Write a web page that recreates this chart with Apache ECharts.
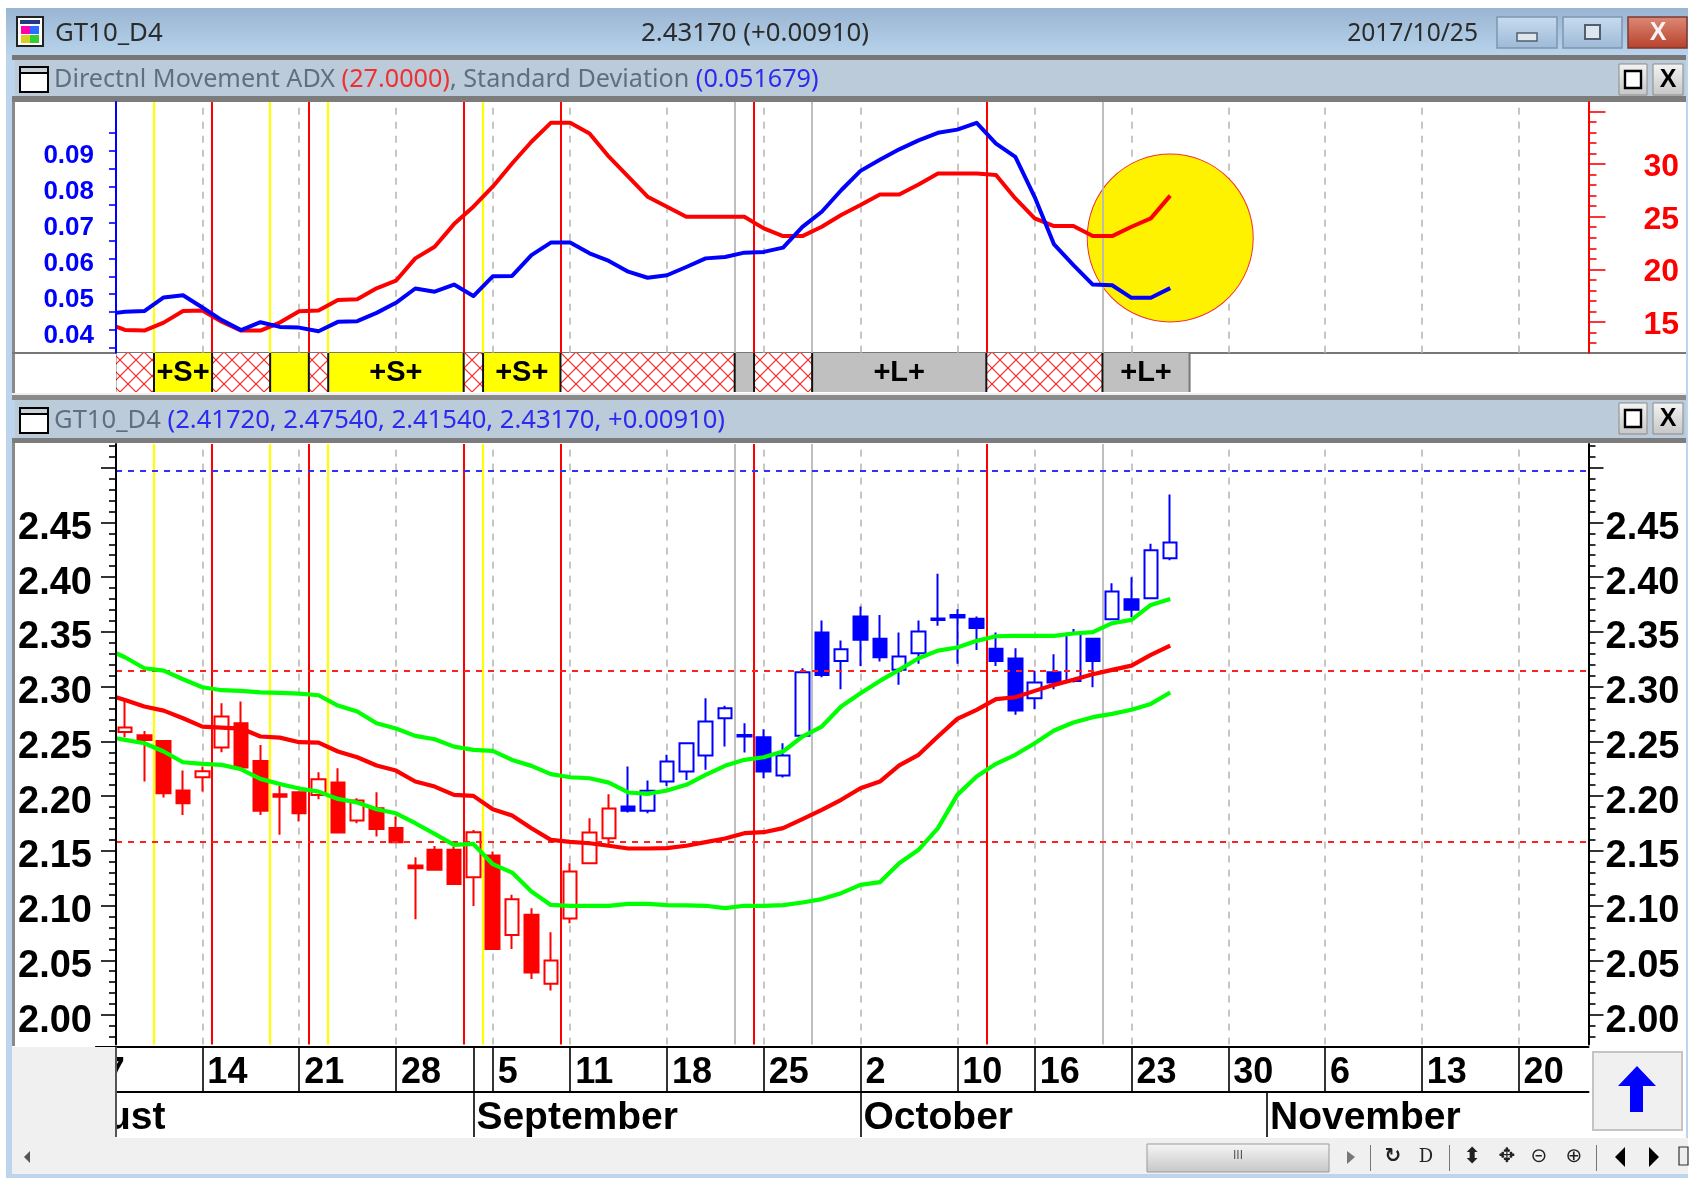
<!DOCTYPE html>
<html>
<head>
<meta charset="utf-8">
<style>html,body{margin:0;padding:0;background:#fff}#c{width:1692px;height:1180px}</style>
<script src="https://cdn.jsdelivr.net/npm/echarts@6/dist/echarts.min.js"></script>
</head>
<body>
<div id="c"></div>
<script>
// day number: trading days counted from Aug 7 (0)
const lineDays = [0.54,1,2,3,4,5,6,7,8,9,10,11,12,13,14,15,16,17,18,19,20,21,22,23,24,25,26,27,28,29,30,31,32,33,34,35,36,37,38,39,40,41,42,43,44,45,46,47,48,49,50,51,52,53,54,55];
const adx = [14.56,14.24,14.18,14.94,16.04,16.08,15.03,14.18,14.18,14.94,16.01,16.08,17.09,17.15,18.2,18.92,21.04,22.15,24.3,25.95,27.85,30.06,32.12,33.92,33.92,32.91,30.7,28.8,26.9,25.95,25,25,25,25,23.89,23.16,23.16,24.05,25.16,26.11,27.12,27.12,28.07,29.11,29.11,29.11,28.96,26.74,24.84,24.11,24.11,23.16,23.16,24.05,24.84,27.0];
const stdDev = [.0448,.0451,.0453,.0491,.0497,.0463,.0428,.0400,.0422,.0409,.0407,.0397,.0423,.0425,.0448,.0476,.0516,.0507,.0527,.0495,.0550,.0551,.0609,.0644,.0644,.0614,.0593,.0563,.0546,.0553,.0576,.0600,.0604,.0616,.0618,.0630,.0688,.0730,.0790,.0844,.0875,.0904,.0929,.0950,.0959,.0978,.0920,.0883,.0771,.0639,.0581,.0527,.0525,.0490,.0490,.0517];
const upperBand = [2.3305,2.3268,2.3168,2.3146,2.3067,2.2994,2.2967,2.2961,2.2948,2.2942,2.2936,2.2921,2.2827,2.2772,2.2665,2.2617,2.2550,2.2519,2.2452,2.2422,2.2413,2.2330,2.2276,2.2200,2.2172,2.2163,2.2123,2.2033,2.2020,2.2051,2.2103,2.2194,2.2276,2.2331,2.2355,2.2407,2.2544,2.2635,2.2818,2.2940,2.3052,2.3153,2.3259,2.3329,2.3357,2.3418,2.3460,2.3463,2.3463,2.3463,2.3485,2.3497,2.3579,2.3609,2.3746,2.3801];
const midBand = [2.2903,2.2878,2.2818,2.2781,2.2711,2.2635,2.2626,2.2617,2.2544,2.2534,2.2492,2.2489,2.2407,2.2355,2.2279,2.2233,2.2133,2.2087,2.2011,2.2002,2.1880,2.1822,2.1706,2.1600,2.1582,2.1569,2.1546,2.1521,2.1521,2.1524,2.1546,2.1579,2.1613,2.1661,2.1670,2.1707,2.1789,2.1874,2.1966,2.2072,2.2133,2.2280,2.2377,2.2544,2.2705,2.2788,2.2885,2.2903,2.2961,2.3016,2.3062,2.3113,2.3153,2.3192,2.3290,2.3375];
const lowerBand = [2.2528,2.2513,2.2483,2.2407,2.2309,2.2294,2.2285,2.2245,2.2157,2.2111,2.2069,2.2041,2.1974,2.1941,2.1880,2.1843,2.1752,2.1655,2.1554,2.1563,2.1378,2.1301,2.1128,2.1006,2.0997,2.0997,2.0997,2.1016,2.1016,2.1004,2.1001,2.0998,2.0976,2.0998,2.0998,2.1004,2.1028,2.1059,2.1113,2.1189,2.1214,2.1387,2.1509,2.1707,2.2011,2.2179,2.2295,2.2377,2.2483,2.2599,2.2672,2.2721,2.2751,2.2788,2.2842,2.2946];
// [day, open, close, low, high]
const redCandles = [
[1,2.2586,2.2626,2.2537,2.2878],[2,2.2556,2.2513,2.2133,2.2595],[3,2.2504,2.2026,2.1986,2.2504],[4,2.2050,2.1935,2.1828,2.2233],
[5,2.2172,2.2227,2.2041,2.2270],[6,2.2443,2.2726,2.2400,2.2848],[7,2.2665,2.2260,2.2260,2.2863],[8,2.2321,2.1865,2.1828,2.2467],
[9,2.2017,2.1993,2.1646,2.2093],[10,2.2035,2.1843,2.1767,2.2035],[11,2.2011,2.2154,2.1971,2.2218],[12,2.2123,2.1667,2.1667,2.2254],
[13,2.1776,2.1959,2.1752,2.1980],[14,2.1889,2.1700,2.1630,2.2035],[15,2.1709,2.1579,2.1569,2.1813],[16,2.1365,2.1341,2.0875,2.1442],
[17,2.1509,2.1326,2.1326,2.1545],[18,2.1509,2.1198,2.1198,2.1539],[19,2.1259,2.1670,2.0997,2.1691],[20,2.1457,2.0604,2.0604,2.1493],
[21,2.0732,2.1058,2.0604,2.1098],[22,2.0915,2.0388,2.0330,2.0976],[23,2.0285,2.0498,2.0224,2.0757],[24,2.0881,2.1311,2.0839,2.1387],
[25,2.1387,2.1667,2.1387,2.1798],[26,2.1615,2.1886,2.1539,2.2017]];
const blueCandles = [
[27,2.1905,2.1865,2.1850,2.2270],[28,2.1865,2.2048,2.1844,2.2142],[29,2.2133,2.2316,2.2093,2.2377],[30,2.2224,2.2483,2.2148,2.2483],
[31,2.2370,2.2681,2.2240,2.2894],[32,2.2711,2.2803,2.2453,2.2824],[33,2.2559,2.2544,2.2398,2.2666],[34,2.2538,2.2224,2.2163,2.2611],
[35,2.2188,2.2370,2.2170,2.2483],[36,2.2550,2.3132,2.2550,2.3168],[37,2.3494,2.3107,2.3086,2.3603],[38,2.3235,2.3342,2.2976,2.3421],
[39,2.3640,2.3427,2.3189,2.3731],[40,2.3436,2.3269,2.3229,2.3655],[41,2.3153,2.3275,2.3016,2.3494],[42,2.3305,2.3503,2.3208,2.3603],
[43,2.3622,2.3609,2.3555,2.4030],[44,2.3655,2.3631,2.3208,2.3707],[45,2.3619,2.3536,2.3335,2.3640],[46,2.3345,2.3235,2.3189,2.3494],
[47,2.3256,2.2781,2.2742,2.3351],[48,2.2894,2.3037,2.2794,2.3144],[49,2.3132,2.3037,2.2976,2.3296],[50,2.3052,2.3482,2.3037,2.3527],
[51,2.3436,2.3235,2.2995,2.3436],[52,2.3616,2.3868,2.3610,2.3944],[53,2.3798,2.3701,2.3634,2.4000],[54,2.3807,2.4246,2.3807,2.4304],
[55,2.4172,2.4317,2.4154,2.4754]];
// strip zones: [start, end, kind, label]
const zones = [
[0.5,2.5,'hatch',''],[2.5,5.5,'yellow','+S+'],[5.5,8.5,'hatch',''],[8.5,10.5,'yellow',''],[10.5,11.5,'hatch',''],
[11.5,18.5,'yellow','+S+'],[18.5,19.5,'hatch',''],[19.5,23.5,'yellow','+S+'],[23.5,32.5,'hatch',''],[32.5,33.5,'grey',''],
[33.5,36.5,'hatch',''],[36.5,45.5,'grey','+L+'],[45.5,51.5,'hatch',''],[51.5,56,'grey','+L+']];
const yellowLines = [2.5,8.5,11.5,19.5];
const redLines = [5.5,10.5,18.5,23.5,33.5,45.5];
const greyLines = [32.5,36.5,51.5];
const weekLines = [5,10,15,20,24,29,34,39,44,48,53,58,63,68,73];
const levelRed = [2.3146,2.158];
const levelBlue = [2.4974];
const circleMark = [55,22.98];
// axes
const dateTickDays = [5,10,15,19,20,24,29,34,39,44,48,53,58,63,68,73];
const dateLabelDays = [-0.3,5,10,15,20,24,29,34,39,44,48,53,58,63,68,73];
const dateLabels = ['7','14','21','28','5','11','18','25','2','10','16','23','30','6','13','20'];
const monthTickDays = [19,39,60];
const monthLabelDays = [-4,19,39,60];
const monthLabels = ['August','September','October','November'];
const stdTicks = [.035,.04,.045,.05,.055,.06,.065,.07,.075,.08,.085,.09,.095];
const stdLabels = [.04,.05,.06,.07,.08,.09];
const adxTicks = [15,20,25,30,35];
const adxLabels = [15,20,25,30];
const adxMinor = [13,14,16,17,18,19,21,22,23,24,26,27,28,29,31,32,33,34];
const priceTicks = [2.00,2.05,2.10,2.15,2.20,2.25,2.30,2.35,2.40,2.45,2.50];
const priceLabels = [2.00,2.05,2.10,2.15,2.20,2.25,2.30,2.35,2.40,2.45];
const priceMinor = [1.98,1.99,2.01,2.02,2.03,2.04,2.06,2.07,2.08,2.09,2.11,2.12,2.13,2.14,2.16,2.17,2.18,2.19,2.21,2.22,2.23,2.24,2.26,2.27,2.28,2.29,2.31,2.32,2.33,2.34,2.36,2.37,2.38,2.39,2.41,2.42,2.43,2.44,2.46,2.47,2.48,2.49,2.51,2.52];

const SANS = '"Liberation Sans", Arial, sans-serif';
const UI = '"Noto Sans", sans-serif';
const X_MIN = 0.537, X_MAX = 76.61;

const tile = document.createElement('canvas');
tile.width = 16; tile.height = 16;
(function(){const g = tile.getContext('2d');g.fillStyle='#fff';g.fillRect(0,0,16,16);g.strokeStyle='#ff2020';g.lineWidth=1.2;
g.beginPath();g.moveTo(0,0);g.lineTo(16,16);g.moveTo(16,0);g.lineTo(0,16);g.stroke();})();
const zoneFill = {hatch:{image:tile,repeat:'repeat'},yellow:'#ffff00',grey:'#c0c0c0'};

function xy(ys){return lineDays.map((d,i)=>[d,ys[i]]);}
function vMark(list,color,type,width,z){
  return {silent:true,symbol:['none','none'],label:{show:false},animation:false,z:z,
    lineStyle:{color:color,type:type,width:width},
    data:list.map(v=>({xAxis:v}))};
}
function vLines(id,xi,yi,list,color,type,width,z){
  return {type:'line',name:id,xAxisIndex:xi,yAxisIndex:yi,data:[[X_MIN,null]],silent:true,symbol:'none',animation:false,tooltip:{show:false},
    markLine:vMark(list,color,type,width,z),z:z};
}
function hMark(list,color,z){
  return {silent:true,precision:4,symbol:['none','none'],label:{show:false},animation:false,z:z,
    lineStyle:{color:color,type:[6,6],width:2},data:list.map(v=>({yAxis:v}))};
}
function curve(xi,yi,ys,color,w,z){
  return {type:'line',xAxisIndex:xi,yAxisIndex:yi,data:xy(ys),symbol:'none',silent:true,animation:false,clip:true,z:z,
    lineStyle:{color:color,width:w,join:'round'}};
}
function candle(rows,color){
  return {type:'candlestick',xAxisIndex:2,yAxisIndex:4,data:rows,barWidth:14,silent:true,animation:false,z:3,
    itemStyle:{color:'#ffffff',color0:color,borderColor:color,borderColor0:color,borderWidth:2}};
}
function xHidden(grid,min,max){return {type:'value',gridIndex:grid,min:min,max:max,show:false,splitLine:{show:false},axisLine:{onZero:false}};}
function yHidden(grid){return {type:'value',gridIndex:grid,min:0,max:1,show:false,splitLine:{show:false},axisLine:{onZero:false}};}
function yAxisDef(grid,pos,min,max,color,ticks,tickLen,labels,font,margin,fmt,lw,lh){
  return {type:'value',gridIndex:grid,position:pos,min:min,max:max,scale:false,splitLine:{show:false},z:10,
    axisLine:{show:lw>0,onZero:false,lineStyle:{color:color,width:lw}},
    axisTick:{show:true,customValues:ticks,length:tickLen,lineStyle:{color:color,width:1.6}},
    axisLabel:labels?{show:true,customValues:labels,margin:margin,color:color,fontFamily:SANS,fontWeight:'bold',fontSize:font,verticalAlign:'top',lineHeight:lh,formatter:fmt}:{show:false}};
}
function dateAxis(grid,min,ticks,labels,names,font,padLeft,margin){
  return {type:'value',gridIndex:grid,position:'bottom',min:min,max:X_MAX,splitLine:{show:false},z:10,
    axisLine:{show:true,onZero:false,lineStyle:{color:'#000',width:2}},
    axisTick:{show:true,customValues:ticks,length:45,lineStyle:{color:'#000',width:1.6}},
    axisLabel:{show:true,customValues:labels,margin:margin,align:'left',color:'#000',fontFamily:SANS,fontWeight:'bold',fontSize:font,padding:[2,0,0,padLeft],
      formatter:function(v){const i=labels.findIndex(d=>Math.abs(d-v)<1e-6);return i<0?'':names[i];}}};
}
// chrome helpers
function R(x,y,w,h,fill,z,stroke,lw){return {type:'rect',silent:true,z:z||-1,shape:{x:x,y:y,width:w,height:h},style:{fill:fill,stroke:stroke||null,lineWidth:lw||0}};}
function T(x,y,text,font,fill,align,z,rich){return {type:'text',silent:true,z:z||-0.5,x:x,y:y,style:{text:text,font:font,fill:fill,align:align||'left',verticalAlign:'middle',rich:rich}};}
function P(points,fill,z){return {type:'polygon',silent:true,z:z||-0.5,shape:{points:points},style:{fill:fill}};}
function V(c1,c2){return {type:'linear',x:0,y:0,x2:0,y2:1,colorStops:[{offset:0,color:c1},{offset:1,color:c2}]};}
function paneIcon(x,y){return [R(x,y,28,25,'#fff',-0.6,'#000',2),R(x,y,28,6,'#c8d0d8',-0.55,'#000',2)];}
function paneBtns(y){return [
  R(1619,y,28,31,V('#f4f4f4','#c6c6c6'),-0.6,'#8a8a8a',1),R(1625,y+7,16,17,'#fff',-0.55,'#000',2.4),
  R(1653,y,30,31,V('#f4f4f4','#c6c6c6'),-0.6,'#8a8a8a',1),T(1668,y+16,'X','bold 25px '+SANS,'#000','center')];}
const H1 = '25.2px '+UI, H2 = '25.6px '+UI, H0 = '25.8px '+UI;
const chrome = [].concat([
  R(6,8,1682,1170,'#bcd5ec',-2),
  R(6,8,1682,47,V('#9ab5d2','#b8d3eb'),-1.9),
  R(12,55,1674,5,'#777',-1.8),
  R(15,60,1671,36,'#bccbd9',-1.7),
  R(12,96,1674,6,'#7c7c7c',-1.7),
  R(12,102,3,292,'#8a8a8a',-1.7),
  R(15,102,1671,250,'#fff',-1.6),
  R(15,352,1671,41,'#fff',-1.6),
  R(12,352,1674,2,'#777',-1.5),
  R(12,393,1674,2,'#eee',-1.5),
  R(12,395,1674,5,'#8a8a8a',-1.5),
  R(15,400,1671,38,'#bccbd9',-1.5),
  R(12,438,1674,5,'#7c7c7c',-1.5),
  R(12,443,3,604,'#8a8a8a',-1.5),
  R(15,443,1671,604,'#fff',-1.5),
  R(12,1046,1674,92,'#fff',-1.5),
  R(12,1138,1676,36,'#f0f0f0',-1.5),
  // window icon
  R(17,17,26,29,'#fff',-1,'#222',2),R(20,20,20,4,'#223a80',-0.9),
  R(21,26,9,8,'#ff00aa',-0.9),R(30,26,9,8,'#2a6cff',-0.9),R(21,35,9,8,'#d8d020',-0.9),R(30,35,9,8,'#30d030',-0.9),
  T(55,34,'GT10_D4',H0,'#2b2b2b'),
  T(755,34,'2.43170 (+0.00910)',H0,'#2b2b2b','center'),
  T(1478,34,'2017/10/25','24.6px '+UI,'#2b2b2b','right'),
  // window buttons
  R(1497,17,60,31,V('#c8dcf0','#9db9d6'),-1,'#7f97ae',1.5),R(1517,33,20,8,'#dfe6ee',-0.9,'#506070',1.5),
  R(1563,17,59,31,V('#c8dcf0','#9db9d6'),-1,'#7f97ae',1.5),R(1585,25,15,14,'#dfe6ee',-0.9,'#506070',2),
  R(1628,17,59,31,V('#dd8a78','#b8402a'),-1,'#7a3a34',1.5),T(1658,33,'X','bold 25px '+SANS,'#f4f4f4','center'),
  // headers
  T(54,80,'{g|Directnl Movement ADX }{r|(27.0000)}{g|, Standard Deviation }{b|(0.051679)}',H1,'#5f6f80','left',-0.5,
    {g:{font:H1,fill:'#5f6f80'},r:{font:H1,fill:'#f03030'},b:{font:H1,fill:'#2a2af0'}}),
  T(54,421,'{g|GT10_D4 }{b|(2.41720, 2.47540, 2.41540, 2.43170, +0.00910)}',H2,'#5f6f80','left',-0.5,
    {g:{font:H2,fill:'#5f6f80'},b:{font:H2,fill:'#2a2af0'}}),
  // date block parts
  R(1593,1052,89,78,'#f0f0f0',-1,'#c4c4c4',2),
  P([[1637,1066],[1656,1086],[1643,1086],[1643,1112],[1630,1112],[1630,1086],[1618,1086]],'#0000ff'),
  // scrollbar
  P([[30,1151],[30,1163],[24,1157]],'#555'),
  R(1147,1144,182,28,V('#f6f6f6','#c6c6c6'),-1,'#9a9a9a',1),
  T(1238,1156,'III','12px '+SANS,'#555','center'),
  P([[1347,1151],[1347,1164],[1355,1157]],'#777'),
  R(1370,1145,1,26,'#777',-0.9),R(1449,1145,1,26,'#777',-0.9),R(1596,1145,1,26,'#777',-0.9),
  T(1393,1157,'↻','bold 20px "DejaVu Sans"','#222','center'),
  T(1426,1157,'D','18px "DejaVu Serif"','#222','center'),
  T(1472,1157,'⬍','22px "DejaVu Sans"','#222','center'),
  T(1507,1157,'✥','20px "DejaVu Sans"','#222','center'),
  T(1539,1157,'⊝','20px "DejaVu Sans"','#222','center'),
  T(1574,1157,'⊕','20px "DejaVu Sans"','#222','center'),
  P([[1625,1147],[1625,1167],[1615,1157]],'#000'),
  P([[1649,1147],[1649,1167],[1659,1157]],'#000'),
  R(1679,1147,9,18,'#eee',-0.9,'#333',1.2),
  // left cover for the clipped "7" and "ust"
  R(12,1047,104,91,'#f0f0f0',50),
  R(115,1047,2,90,'#555',51)
], paneIcon(20,67), paneIcon(20,408), paneBtns(64), paneBtns(403));

const option = {
  backgroundColor:'#fff',
  animation:false,
  tooltip:{show:false},
  legend:{show:false},
  graphic:{elements:chrome},
  grid:[
    {left:116,top:102,width:1472.5,height:250.7},
    {left:116,top:353,width:1472.5,height:39},
    {left:116,top:444,width:1472.5,height:600.6},
    {left:95.9,top:1046,width:1492.6,height:1},
    {left:18.5,top:1091,width:1570,height:1}
  ],
  xAxis:[
    xHidden(0,X_MIN,X_MAX),xHidden(1,X_MIN,X_MAX),xHidden(2,X_MIN,X_MAX),
    dateAxis(3,-0.5,dateTickDays,dateLabelDays,dateLabels,36,5,6),
    dateAxis(4,-4.5,monthTickDays,monthLabelDays,monthLabels,39,3,5)
  ],
  yAxis:[
    yAxisDef(0,'left',.0337,.1036,'#0000ff',stdTicks,7,stdLabels,26,22,v=>v.toFixed(2),2,11),
    yAxisDef(0,'right',12.08,35.9,'#ff0000',adxTicks,17,adxLabels,32,55,v=>String(v),2,6),
    yAxisDef(0,'right',12.08,35.9,'#ff0000',adxMinor,8,null,0,0,null,0),
    yHidden(1),
    yAxisDef(2,'left',1.973,2.5216,'#000',priceTicks,15,priceLabels,38,24,v=>v.toFixed(2),2,12),
    yAxisDef(2,'right',1.973,2.5216,'#000',priceTicks,15,priceLabels,38,17,v=>v.toFixed(2),2,12),
    yAxisDef(2,'left',1.973,2.5216,'#000',priceMinor,7,null,0,0,null,0),
    yAxisDef(2,'right',1.973,2.5216,'#000',priceMinor,7,null,0,0,null,0),
    yHidden(3),yHidden(4)
  ],
  series:[
    // top pane
    vLines('tw',0,0,weekLines,'#c0c0c0',[7,7],1.8,1),
    {type:'scatter',xAxisIndex:0,yAxisIndex:1,data:[circleMark],symbol:'circle',symbolSize:[166,168],silent:true,animation:false,z:2,
      itemStyle:{color:'#fff200',borderColor:'#f03030',borderWidth:1,opacity:1}},
    vLines('tg',0,0,greyLines,'#b8b8b8','solid',1.8,2.5),
    vLines('tr',0,0,redLines,'#ff0000','solid',2,2.5),
    vLines('ty',0,0,yellowLines,'#ffff00','solid',2.2,2.5),
    curve(0,1,adx,'#ff0000',4,4),
    curve(0,0,stdDev,'#0000ff',4,4.5),
    // strip
    {type:'custom',xAxisIndex:1,yAxisIndex:3,data:zones,silent:true,animation:false,clip:true,z:3,
      encode:{x:[0,1]},
      renderItem:function(p,api){
        const z = zones[p.dataIndex];
        const a = api.coord([z[0],1]), b = api.coord([z[1],0]);
        const kids = [{type:'rect',shape:{x:a[0],y:a[1],width:b[0]-a[0],height:b[1]-a[1]},style:{fill:zoneFill[z[2]]}},
          {type:'rect',shape:{x:a[0]-1,y:a[1],width:2,height:b[1]-a[1]},style:{fill:'#111'}}];
        if(p.dataIndex===zones.length-1) kids.push({type:'rect',shape:{x:b[0]-1,y:a[1],width:2,height:b[1]-a[1]},style:{fill:'#777'}});
        if(z[3]) kids.push({type:'text',x:(a[0]+b[0])/2,y:(a[1]+b[1])/2,style:{text:z[3],font:'bold 29px '+SANS,fill:'#000',align:'center',verticalAlign:'middle'}});
        return {type:'group',children:kids};
      }},
    // lower pane
    vLines('lw',2,4,weekLines,'#c0c0c0',[7,7],1.8,1),
    vLines('lg',2,4,greyLines,'#b8b8b8','solid',1.8,1.5),
    vLines('lr',2,4,redLines,'#ff0000','solid',2,1.5),
    vLines('ly',2,4,yellowLines,'#ffff00','solid',2.2,1.5),
    candle(redCandles,'#ff0000'),
    candle(blueCandles,'#0000ff'),
    Object.assign(curve(2,4,midBand,'#ff0000',4.2,5),{markLine:hMark(levelRed,'#ff2020',5)}),
    Object.assign(curve(2,4,upperBand,'#00ff00',4.2,5.5),{markLine:hMark(levelBlue,'#3030ff',5)}),
    curve(2,4,lowerBand,'#00ff00',4.2,5.5)
  ]
};
echarts.init(document.getElementById('c'),null,{renderer:'canvas'}).setOption(option);
</script>
</body>
</html>
